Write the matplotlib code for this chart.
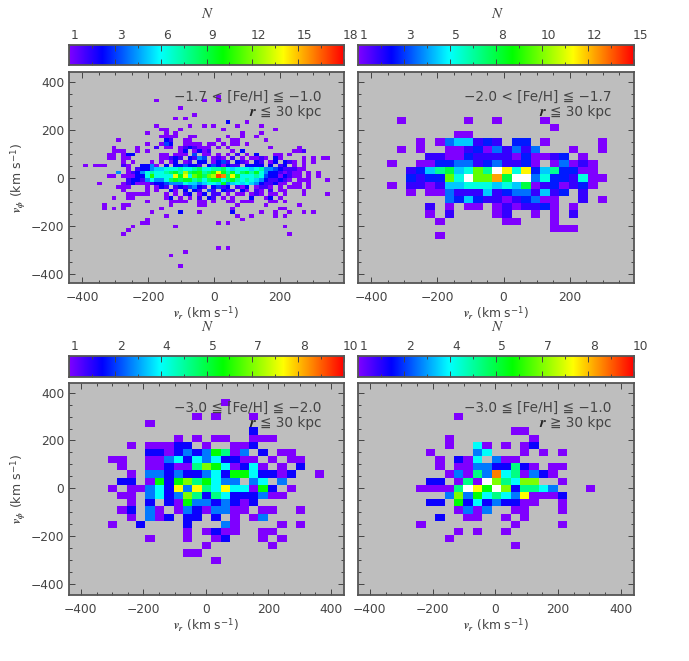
#!/usr/bin/env python3
"""Velocity distributions v_r / v_phi in four metallicity bins."""

import matplotlib
matplotlib.use('Agg')
import matplotlib.pyplot as plt
import numpy as np
from matplotlib.colors import LinearSegmentedColormap
from matplotlib.ticker import MultipleLocator
from matplotlib.transforms import ScaledTranslation

plt.rcParams['font.family'] = ['DejaVu Sans']
plt.rcParams['mathtext.fontset'] = 'custom'
plt.rcParams['mathtext.rm'] = 'DejaVu Sans'
plt.rcParams['mathtext.it'] = 'STIXGeneral:italic:bold'
plt.rcParams['mathtext.bf'] = 'STIXGeneral:italic:bold'

# counts per bin: (row, first column, digits in base 36, '.' is an empty bin)
counts_a = [
    (22, 0, "1"),
    (21, -13, "1.........1..1"),
    (19, -8, "1"),
    (17, -5, "1"),
    (16, -9, "1.1"),
    (15, 2, "3...1"),
    (14, -13, "1......1..1.1....1....1"),
    (13, -12, "11..1........1..........1"),
    (12, -15, "1...1.1.............1...1"),
    (11, -12, "1111..11......1..1..1"),
    (10, -21, "1.........32..11.....1..11.....1"),
    (9, -15, "1..143..1111.11.1.11.1"),
    (8, -22, "1....1...2.11.1232111.1.1........1.....1"),
    (7, -22, "111..1.1......13.1312....1.3..........112"),
    (6, -23, "11.133.....11.111.4.11.1.1.2.1.3...11.1"),
    (5, -23, "11.11......11232.3254.121.2.1.1121.31....1.1.11"),
    (4, -20, "1.1...1.1.13.12.33.1342.321.32.13.321.1.1"),
    (3, -28, "1.111...21..3351.3.334332.3431322.3333.3.23.1.1"),
    (2, -19, "1.233566777877897788976777678554322211"),
    (1, -21, "5.1235787789a8d9ab89bea8a79a8a753321211.1.1"),
    (0, -23, "11.111337b7777eae7cb9cdhg9ea7778743313211.1.1"),
    (-1, -19, "2332575579a9aa8979aa79a878765322321.111...1"),
    (-2, -25, "1....12311123345557665677" + "6a5676765322311.11.1"),
    (-3, -21, "111...1.132.2324532.3423.213.1221.1.111.1"),
    (-4, -20, "1....1.1..31.3.32.42.322.31.21.2.11...1"),
    (-5, -19, "11111...1.1.23.13.22.1.11.121.11.1...1"),
    (-5, 23, "1"),
    (-6, -22, "1..11......13.1.1.2.32.1.1...3..13.1"),
    (-7, -15, "1....1111..11.1..11.111...11.1"),
    (-8, -24, "1...11........1.....11......1.....1......1"),
    (-9, -24, "1.1.1.......1..............1.........11"),
    (-10, -14, "1.....3...1......3.....1..1..1..1.1"),
    (-11, -11, "1..............1..1....1.1"),
    (-12, -15, "1...................1"),
    (-13, -16, "11..............1.1"),
    (-14, -18, "1........1......................1"),
    (-15, -19, "1"),
    (-16, -20, "1..................................1"),
    (-20, 0, "1.1"),
    (-21, -7, "1"),
    (-22, -10, "1"),
    (-25, -8, "1"),
]

counts_b = [
    (8, -11, "1......1..1....1"),
    (7, 5, "1"),
    (6, -5, "11"),
    (5, -9, "1.1455232.33.1.....1"),
    (4, -11, "1.1..1123142424...1..1"),
    (3, -8, "221132222131123.1"),
    (2, -12, "1..1133442342231.14121"),
    (1, -10, "2357856a7gc6c3573311"),
    (0, -10, "3233a6gaad8gg46332611"),
    (-1, -12, "1.22125566656581231231"),
    (-2, -10, "1.114222523442523.2"),
    (-3, -6, "435322123411..2.1"),
    (-4, -8, "2.1.11.1212231.1"),
    (-5, -8, "1.2....12..1.1.2"),
    (-6, -7, "1......11...1"),
    (-7, 5, "111"),
    (-8, -7, "1"),
]

counts_c = [
    (12, 2, "1"),
    (10, -1, "1.1...1"),
    (9, -6, "1"),
    (8, 5, "2"),
    (7, -3, "1.1.11..111"),
    (6, -8, "1.11122.1..112"),
    (5, -6, "22123236513.2.11"),
    (4, -10, "11..113424342211.1.11"),
    (3, -9, "1..1121157641241.1.2"),
    (2, -8, "1.3323223426642212..1"),
    (1, -9, "22.1626756433.34.3"),
    (0, -10, "1.1134283854844162.1"),
    (-1, -9, "11.342375254222311"),
    (-2, -8, "1.2.2163323212"),
    (-3, -9, "12.31.13213311.11..1"),
    (-4, -8, "1.312.22.2.1.13"),
    (-5, -10, "1..2....2...31....1.1"),
    (-6, -2, "1.1211..11"),
    (-7, -6, "1...1..12...1.1"),
    (-8, 0, "1......1"),
    (-9, -2, "11"),
    (-10, 1, "1"),
]

counts_d = [
    (10, -4, "1"),
    (8, 2, "11"),
    (7, -5, "1........1"),
    (6, -5, "1..41.1.12"),
    (5, -7, "1....34...1.1.1"),
    (4, -6, "1.214.311"),
    (3, -6, "1.113322521.11"),
    (2, -5, "131539451321"),
    (1, -7, "22.151b75477..1"),
    (0, -8, "11115b86b725543...1"),
    (-1, -5, "3736454381112"),
    (-2, -7, "22.624232211..1"),
    (-3, -4, "1313..11...1"),
    (-4, -6, "2..11..1.1"),
    (-5, -8, "1.........1....1"),
    (-6, -4, "1.1..1"),
    (-7, -5, "1"),
    (-8, 2, "1"),
]

# bin size and offset of column 0, km/s
bins_x = [(14.4, 6.0), (28.9, -5.0), (30.1, -12.8), (30.0, -11.7)]
bins_y = [(15.0, 0.0), (30.0, -15.0), (30.0, -15.0), (30.0, -15.0)]

titles = ["\u22121.7 < [Fe/H] ≦ \u22121.0", "\u22122.0 < [Fe/H] ≦ \u22121.7",
          "\u22123.0 ≦ [Fe/H] ≦ \u22122.0", "\u22123.0 ≦ [Fe/H] ≦ \u22121.0"]
radius_labels = ["≦ 30 kpc", "≦ 30 kpc", "≦ 30 kpc", "≧ 30 kpc"]
n_max = [18, 15, 10, 10]
bar_labels = [['1', '3', '6', '9', '12', '15', '18'],
              ['1', '3', '5', '8', '10', '12', '15'],
              ['1', '2', '4', '5', '7', '8', '10'],
              ['1', '2', '4', '5', '7', '8', '10']]
x_limits = [(-440, 394), (-440, 394), (-438, 442), (-438, 442)]
y_limits = [(-438, 442), (-438, 442), (-445, 440), (-445, 440)]

# pixel boxes: left, right, top, bottom
axes_boxes = [(69, 344, 72, 283), (358, 634, 72, 283),
              (69, 344, 383, 595), (358, 634, 383, 595)]
bar_boxes = [(69, 344, 45, 65), (358, 634, 45, 65),
             (69, 344, 356, 377), (358, 634, 356, 377)]
n_label_y = [14, 14, 327, 327]

WIDTH, HEIGHT = 689, 661
INK = '#444444'
BACK = '#bebebe'
FONT = 8.8

idl_cmap = LinearSegmentedColormap.from_list(
    'idl_rainbow',
    [(0.0, '#7f00ff'), (0.12, '#0000ff'), (0.33, '#00ffff'),
     (0.56, '#00ff00'), (0.78, '#ffff00'), (1.0, '#ff0000')])
idl_cmap.set_over('white')
idl_cmap.set_bad(BACK)


def add_box(fig, box):
    left, right, top, bottom = box
    return fig.add_axes([left / WIDTH, 1 - bottom / HEIGHT,
                         (right - left) / WIDTH, (bottom - top) / HEIGHT])


def fill_grid(rows):
    """Turn the row strings into a count grid, returns grid and lowest indices."""
    cols = [c for _, s, t in rows for c in (s, s + len(t))]
    row_ids = [r for r, _, _ in rows]
    c0, c1 = min(cols), max(cols)
    r0, r1 = min(row_ids), max(row_ids)
    grid = np.zeros((r1 - r0 + 1, c1 - c0))
    for r, start, text in rows:
        for i, ch in enumerate(text):
            if ch != '.':
                grid[r - r0, start + i - c0] = int(ch, 36)
    return grid, c0, r0


def style_frame(ax):
    for spine in ax.spines.values():
        spine.set_color('#555555')
        spine.set_linewidth(1.3)
    ax.tick_params(which='both', direction='in', top=True, right=True,
                   color=INK, labelcolor=INK, width=0.7, labelsize=FONT)
    ax.tick_params(which='major', length=4.5)
    ax.tick_params(which='minor', length=2.5)


def draw_panel(fig, i, rows):
    ax = add_box(fig, axes_boxes[i])
    grid, c0, r0 = fill_grid(rows)
    dx, off_x = bins_x[i]
    dy, off_y = bins_y[i]
    x_edges = off_x + dx * np.arange(c0, c0 + grid.shape[1] + 1)
    y_edges = off_y + dy * np.arange(r0, r0 + grid.shape[0] + 1)
    ax.set_facecolor(BACK)
    ax.pcolormesh(x_edges, y_edges, np.ma.masked_equal(grid, 0), cmap=idl_cmap,
                  vmin=1, vmax=n_max[i], shading='flat')
    ax.set_xlim(*x_limits[i])
    ax.set_ylim(*y_limits[i])
    ax.xaxis.set_major_locator(MultipleLocator(200))
    ax.xaxis.set_minor_locator(MultipleLocator(50))
    ax.yaxis.set_major_locator(MultipleLocator(200))
    ax.yaxis.set_minor_locator(MultipleLocator(50))
    style_frame(ax)
    ax.tick_params(axis='x', pad=6)
    ax.set_xlabel(r'$v_r$ (km s$^{-1}$)', fontsize=FONT, color=INK, labelpad=0.5)
    if i % 2 == 0:
        ax.set_ylabel(r'$v_{\phi}$ (km s$^{-1}$)', fontsize=FONT + 0.2, color=INK, labelpad=1)
    else:
        ax.tick_params(axis='y', labelleft=False)

    _, right, top, _ = axes_boxes[i]
    text_x = (right - 23) / WIDTH
    fig.text(text_x, 1 - (top + 25) / HEIGHT, titles[i], ha='right', va='center',
             fontsize=9.8, color=INK)
    fig.text(text_x, 1 - (top + 40) / HEIGHT, radius_labels[i], ha='right',
             va='center', fontsize=9.8, color=INK)
    fig.text((right - 92) / WIDTH, 1 - (top + 40) / HEIGHT, 'r', ha='center', va='center',
             fontsize=FONT + 2, color='#222222', family='STIXGeneral', style='italic',
             weight='bold')


def draw_bar(fig, i):
    ax = add_box(fig, bar_boxes[i])
    levels = np.linspace(1, n_max[i], 256)[np.newaxis, :]
    ax.imshow(levels, aspect='auto', cmap=idl_cmap, vmin=1, vmax=n_max[i],
              extent=[1, n_max[i], 0, 1])
    ticks = np.linspace(1, n_max[i], 7)
    ax.set_xticks(ticks)
    ax.set_xticks(np.linspace(1, n_max[i], 13), minor=True)
    ax.set_xticklabels(bar_labels[i])
    ax.set_yticks([])
    style_frame(ax)
    ax.tick_params(axis='x', which='both', labelbottom=False, labeltop=True, pad=2)
    ax.tick_params(which='major', length=4)
    ax.tick_params(which='minor', length=2)
    # the printed numbers sit a few pixels right of their ticks
    shift = ScaledTranslation(6 / fig.dpi, 0, fig.dpi_scale_trans)
    for label in ax.get_xticklabels():
        label.set_transform(label.get_transform() + shift)
    left, right, _, _ = bar_boxes[i]
    fig.text((left + right) / 2 / WIDTH, 1 - n_label_y[i] / HEIGHT, 'N', ha='center',
             va='center', fontsize=FONT + 2, color=INK, family='STIXGeneral', style='italic')


def main():
    fig = plt.figure(figsize=(WIDTH / 100, HEIGHT / 100), dpi=100)
    all_counts = [counts_a, counts_b, counts_c, counts_d]
    for i, rows in enumerate(all_counts):
        draw_panel(fig, i, rows)
        draw_bar(fig, i)
    fig.savefig('out.png', dpi=100)
    plt.close(fig)


if __name__ == "__main__":
    main()
